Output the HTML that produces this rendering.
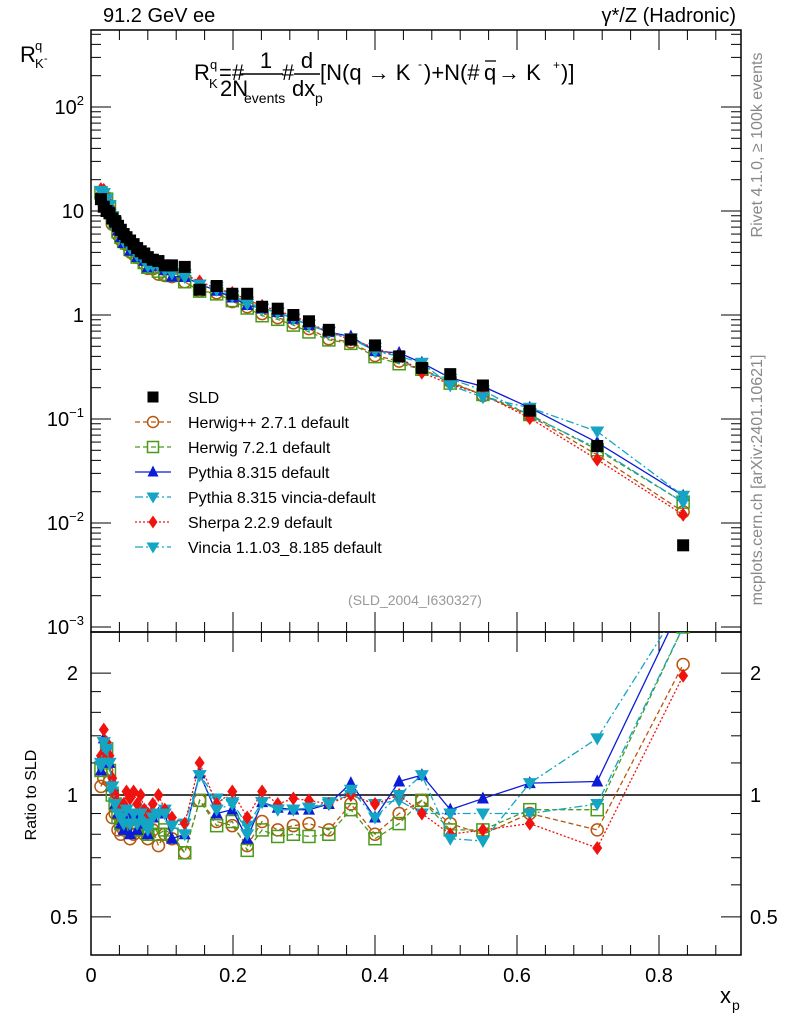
<!DOCTYPE html>
<html><head><meta charset="utf-8"><style>
body{margin:0;background:#fff;}
svg{display:block;font-family:"Liberation Sans",sans-serif;}
</style></head><body>
<svg id="c" width="786" height="1024" viewBox="0 0 786 1024" xmlns="http://www.w3.org/2000/svg">
<g id="top"></g>
</svg>
<script>
const xs=[0.014,0.018,0.022,0.026,0.030,0.034,0.038,0.042,0.046,0.050,0.055,0.060,0.065,0.070,0.075,0.080,0.087,0.095,0.104,0.114,0.132,0.153,0.177,0.199,0.220,0.241,0.263,0.285,0.307,0.335,0.366,0.400,0.434,0.466,0.506,0.552,0.618,0.713,0.834];
const sld=[13,11,10,9.5,8.5,8,7.2,6.6,6.0,5.6,5.2,4.8,4.4,4.1,3.9,3.6,3.4,3.3,3.0,3.0,2.9,1.75,1.9,1.6,1.6,1.2,1.15,1.0,0.87,0.72,0.58,0.51,0.40,0.31,0.27,0.21,0.12,0.055,0.0061];
const rHerwigPP=[1.05,1.1,1.15,1.08,0.88,0.9,0.82,0.8,0.82,0.85,0.78,0.8,0.82,0.85,0.8,0.78,0.82,0.75,0.8,0.78,0.72,0.97,0.86,0.84,0.75,0.86,0.82,0.84,0.85,0.82,0.95,0.8,0.9,0.97,0.85,0.8,0.9,0.82,2.1];
const rHerwig7=[1.15,1.2,1.3,1.15,1.0,0.95,0.88,0.85,0.85,0.88,0.82,0.85,0.82,0.88,0.82,0.8,0.85,0.8,0.82,0.8,0.72,0.97,0.84,0.86,0.73,0.82,0.79,0.8,0.79,0.8,0.92,0.78,0.85,0.97,0.82,0.82,0.92,0.92,2.6];
const rPythia=[1.15,1.38,1.3,1.2,1.05,0.95,0.9,0.85,0.82,0.9,0.8,0.88,0.82,0.9,0.85,0.8,0.88,0.9,0.9,0.78,0.8,1.13,0.9,0.92,0.78,0.96,0.93,0.92,0.92,0.95,1.07,0.88,1.08,1.12,0.92,0.98,1.07,1.08,3.0];
const rPythiaV=[1.18,1.35,1.28,1.2,1.02,0.95,0.92,0.88,0.85,0.92,0.85,0.9,0.85,0.92,0.88,0.84,0.9,0.9,0.92,0.84,0.85,1.12,0.98,0.96,0.84,0.96,0.92,0.92,0.93,0.96,1.0,0.95,0.97,0.9,0.9,0.9,0.9,0.95,2.6];
const rSherpa=[1.25,1.45,1.35,1.25,1.1,1.0,0.95,0.92,0.95,1.02,0.98,1.02,0.95,1.0,0.92,0.9,0.95,1.0,0.92,0.88,0.85,1.2,0.95,1.02,0.88,1.02,0.95,0.98,0.97,0.95,1.0,0.95,1.0,0.9,0.8,0.82,0.85,0.74,1.97];
const rVincia=[1.2,1.35,1.3,1.2,1.05,0.95,0.9,0.88,0.85,0.92,0.85,0.9,0.85,0.9,0.85,0.82,0.88,0.9,0.9,0.84,0.8,1.12,0.92,0.95,0.8,0.96,0.92,0.92,0.93,0.95,1.03,0.88,1.0,1.12,0.78,0.77,1.07,1.38,3.0];
const series=[
 {name:'herwigpp',label:'Herwig++ 2.7.1 default',r:rHerwigPP,c:'#b8560d',dash:'5,3',m:'circle'},
 {name:'herwig7',label:'Herwig 7.2.1 default',r:rHerwig7,c:'#4a9a1a',dash:'5,3',m:'square'},
 {name:'pythia',label:'Pythia 8.315 default',r:rPythia,c:'#0b1bd6',dash:'',m:'tri-up'},
 {name:'pythia-vincia',label:'Pythia 8.315 vincia-default',r:rPythiaV,c:'#14a5c4',dash:'8,3,2,3',m:'tri-down'},
 {name:'sherpa',label:'Sherpa 2.2.9 default',r:rSherpa,c:'#f0120f',dash:'2,2',m:'diamond'},
 {name:'vincia',label:'Vincia 1.1.03_8.185 default',r:rVincia,c:'#14a5c4',dash:'8,3,2,3',m:'tri-down'}
];
const NS='http://www.w3.org/2000/svg';
const svg=document.getElementById('c');
const L=91,R=741,T1=30,B1=632,B2=955;
const X=v=>L+v*710;
const Y1=v=>315-Math.log10(v)*104;
const Y2=v=>795-Math.log10(v)*405;
function mk(tag,at,parent){const e=document.createElementNS(NS,tag);for(const k in at)e.setAttribute(k,at[k]);(parent||svg).appendChild(e);return e;}
function txt(s,x,y,sz,anchor,fill,parent){const t=mk('text',{x:x,y:y,'font-size':sz,'text-anchor':anchor||'start',fill:fill||'#000'},parent);t.textContent=s;return t;}
function marker(g,type,x,y,c,s){
 s=s||5.5;let e;
 if(type==='circle')e=mk('circle',{cx:x,cy:y,r:s,fill:'none',stroke:c,'stroke-width':1.5},g);
 else if(type==='square')e=mk('rect',{x:x-s,y:y-s,width:2*s,height:2*s,fill:'none',stroke:c,'stroke-width':1.5},g);
 else if(type==='fsquare')e=mk('rect',{x:x-s,y:y-s,width:2*s,height:2*s,fill:c},g);
 else if(type==='tri-up')e=mk('polygon',{points:`${x},${y-s-1} ${x-s},${y+s-1} ${x+s},${y+s-1}`,fill:c},g);
 else if(type==='tri-down')e=mk('polygon',{points:`${x},${y+s+1} ${x-s-1},${y-s+1} ${x+s+1},${y-s+1}`,fill:c},g);
 else e=mk('polygon',{points:`${x},${y-s-1} ${x-s+1},${y} ${x},${y+s+1} ${x+s-1},${y}`,fill:c},g);
 return e;
}
const defs=mk('defs',{});
const c1=mk('clipPath',{id:'cp1'},defs);mk('rect',{x:L,y:T1,width:R-L,height:B1-T1},c1);
const c2=mk('clipPath',{id:'cp2'},defs);mk('rect',{x:L,y:B1,width:R-L,height:B2-B1},c2);
const f1=mk('rect',{x:L,y:T1,width:R-L,height:B1-T1,fill:'none',stroke:'#000','stroke-width':1.5});

const f2=mk('rect',{x:L,y:B1,width:R-L,height:B2-B1,fill:'none',stroke:'#000','stroke-width':1.5});

const yt=mk('g',{stroke:'#000','stroke-width':1});

for(let d=-3;d<=2;d++){for(let m=1;m<10;m++){const v=m*Math.pow(10,d);const y=Y1(v);if(y<T1||y>B1)continue;const len=m===1?20:10;
 mk('line',{x1:L,y1:y,x2:L+len,y2:y},yt);mk('line',{x1:R,y1:y,x2:R-len,y2:y},yt);}}
const ylv=[1e-3,1e-2,1e-1,1,10,100];
const yl=mk('g',{});
for(let i=0;i<ylv.length;i++){const t=txt('',84,Y1(ylv[i])+7,20,'end','#000',yl);
 if(i===3){t.textContent='1';}else if(i===4){t.textContent='10';}else{const p=['−3','−2','−1','','','2'][i];t.textContent='10';const ts=mk('tspan',{dy:-9,'font-size':13},t);ts.textContent=p;}}
const xt=mk('g',{stroke:'#000','stroke-width':1});

for(let i=0;i<=22;i++){const v=i*0.04;const x=X(v);if(x>R)break;const maj=i%5===0;const len=maj?20:10;
 mk('line',{x1:x,y1:B2,x2:x,y2:B2-len},xt);mk('line',{x1:x,y1:B1,x2:x,y2:B1-len},xt);mk('line',{x1:x,y1:B1,x2:x,y2:B1+len},xt);mk('line',{x1:x,y1:T1,x2:x,y2:T1+len},xt);}
const xlv=[0,0.2,0.4,0.6,0.8];const xlt=['0','0.2','0.4','0.6','0.8'];
const xl=mk('g',{});
xlv.forEach((v,i)=>txt(xlt[i],X(v),982,20,'middle','#000',xl));
const rt=mk('g',{stroke:'#000','stroke-width':1});

[0.4,0.5,0.6,0.7,0.8,0.9,1,2].forEach(v=>{const y=Y2(v);if(y<B1||y>B2)return;const len=(v===0.5||v===1||v===2)?20:10;mk('line',{x1:L,y1:y,x2:L+len,y2:y},rt);mk('line',{x1:R,y1:y,x2:R-len,y2:y},rt);});
[1.2,1.4,1.6,1.8].forEach(v=>{const y=Y2(v);mk('line',{x1:L,y1:y,x2:L+10,y2:y},rt);mk('line',{x1:R,y1:y,x2:R-10,y2:y},rt);});
const rl=mk('g',{});
[[0.5,'0.5'],[1,'1'],[2,'2']].forEach(p=>{txt(p[1],78,Y2(p[0])+7,20,'end','#000',rl);txt(p[1],750,Y2(p[0])+7,20,'start','#000',rl);});
const one=mk('line',{x1:L,y1:Y2(1),x2:R,y2:Y2(1),stroke:'#000','stroke-width':1.5});

const gm=mk('g',{'clip-path':'url(#cp1)'});
const gr=mk('g',{'clip-path':'url(#cp2)'});
series.forEach(s=>{
 const g=mk('g',{},gm);
 const pts=xs.map((x,i)=>X(x)+','+Y1(sld[i]*s.r[i])).join(' ');
 const pl=mk('polyline',{points:pts,fill:'none',stroke:s.c,'stroke-width':1.3,'stroke-dasharray':s.dash},g);
 
 xs.forEach((x,i)=>{const m=marker(g,s.m,X(x),Y1(sld[i]*s.r[i]),s.c,6);});
 const g2=mk('g',{},gr);
 const pts2=xs.map((x,i)=>X(x)+','+Y2(s.r[i])).join(' ');
 const pl2=mk('polyline',{points:pts2,fill:'none',stroke:s.c,'stroke-width':1.3,'stroke-dasharray':s.dash},g2);
 
 xs.forEach((x,i)=>{const m=marker(g2,s.m,X(x),Y2(s.r[i]),s.c,6);});
});
const gs=mk('g',{},gm);
xs.forEach((x,i)=>{const m=marker(gs,'fsquare',X(x),Y1(sld[i]),'#000',6);});
const lg=mk('g',{});
const e0=mk('g',{},lg);
marker(e0,'fsquare',153,397,'#000',5.5);txt('SLD',188,403,16,'start','#000',e0);
series.forEach((s,i)=>{const y=422+i*25;const e=mk('g',{},lg);
 mk('line',{x1:135,y1:y,x2:171,y2:y,stroke:s.c,'stroke-width':1.3,'stroke-dasharray':s.dash},e);marker(e,s.m,153,y,s.c,5.5);txt(s.label,188,y+6,16,'start','#000',e);});
let t;
t=txt('91.2 GeV ee',103,22,20);
t=txt('γ*/Z (Hadronic)',736,22,20,'end');
t=txt('(SLD_2004_I630327)',415,605,14,'middle','#999');
t=txt('Rivet 4.1.0, ≥ 100k events',0,0,16,'middle','#888');t.setAttribute('transform','translate(762,145) rotate(-90)');
t=txt('mcplots.cern.ch [arXiv:2401.10621]',0,0,16,'middle','#888');t.setAttribute('transform','translate(762,480) rotate(-90)');
t=txt('Ratio to SLD',0,0,16,'middle');t.setAttribute('transform','translate(36,795) rotate(-90)');
const yg=mk('g',{});
txt('R',20,62,22,'start','#000',yg);txt('q',35,50,13,'start','#000',yg);txt('K',35,68,13,'start','#000',yg);txt('-',44,62,11,'start','#000',yg);
const xg=mk('g',{});
txt('x',720,1003,22,'start','#000',xg);txt('p',732,1010,14,'start','#000',xg);
const fg=mk('g',{});
txt('R',194,80,22,'start','#000',fg);txt('q',210,69,13,'start','#000',fg);txt('K',209,88,13,'start','#000',fg);
txt('=#',219,80,22,'start','#000',fg);
txt('1',266,68,22,'middle','#000',fg);mk('line',{x1:240,y1:74,x2:283,y2:74,stroke:'#000','stroke-width':1.5},fg);
txt('2N',220,96,22,'start','#000',fg);txt('events',244,103,14,'start','#000',fg);
txt('#',282,80,22,'start','#000',fg);
txt('d',307,68,22,'middle','#000',fg);mk('line',{x1:294,y1:74,x2:320,y2:74,stroke:'#000','stroke-width':1.5},fg);
txt('dx',292,96,22,'start','#000',fg);txt('p',315,103,14,'start','#000',fg);
txt('[N(q →  K',320,80,22,'start','#000',fg);txt('-',418,68,12,'start','#000',fg);
txt(')+N(#',424,80,22,'start','#000',fg);txt('q',484,80,22,'start','#000',fg);mk('line',{x1:485,y1:61,x2:496,y2:61,stroke:'#000','stroke-width':1.3},fg);
txt('→  K',498,80,22,'start','#000',fg);txt('+',553,69,12,'start','#000',fg);txt(')]',561,80,22,'start','#000',fg);
</script>
</body></html>
